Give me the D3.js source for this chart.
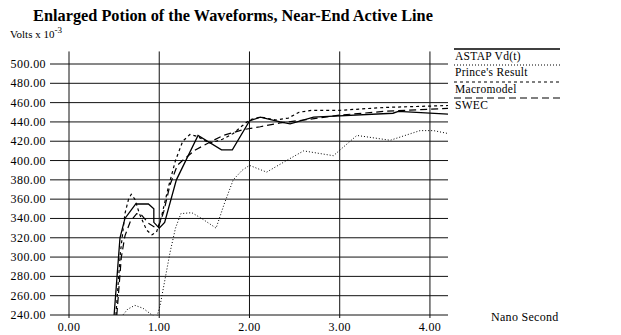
<!DOCTYPE html>
<html><head><meta charset="utf-8">
<script src="https://cdn.jsdelivr.net/npm/d3@7"></script>
<style>body{margin:0;background:#fff}svg{display:block}text{font-family:"Liberation Serif","Times New Roman",serif;fill:#000}</style>
</head><body>
<svg id="chart" width="621" height="335"></svg>
<script>
const title = "Enlarged Potion of the Waveforms, Near-End Active Line";
const xTicks = [0, 1, 2, 3, 4];
const yTicks = [240, 260, 280, 300, 320, 340, 360, 380, 400, 420, 440, 460, 480, 500];
const seriesNames = ["ASTAP Vd(t)", "Prince's Result", "Macromodel", "SWEC"];
const astap = [[0.50,240],[0.565,320],[0.62,340],[0.74,355],[0.88,355],[0.94,350],[0.94,336],[1.00,330],[1.06,336],[1.19,380],[1.43,426],[1.69,411],[1.81,411],[2.00,441],[2.12,445],[2.34,440],[2.45,438],[2.71,445],[3.59,449],[3.65,451],[4.20,448]];
const prince = [[0.58,238],[0.65,246],[0.73,250],[0.82,247],[0.92,240],[0.97,237],[1.01,250],[1.07,280],[1.12,305],[1.18,330],[1.24,345],[1.36,346],[1.47,340],[1.63,330],[1.72,355],[1.82,380],[1.92,390],[2.00,395],[2.19,388],[2.41,400],[2.60,410],[2.93,405],[3.19,426],[3.56,421],[3.89,431],[4.04,431],[4.20,428]];
const macro = [[0.52,240],[0.57,305],[0.62,345],[0.66,360],[0.69,365],[0.73,360],[0.78,345],[0.86,328],[0.92,323],[0.97,326],[1.02,340],[1.10,372],[1.18,400],[1.26,420],[1.34,427],[1.42,425],[1.56,418],[1.70,422],[1.82,428],[1.92,436],[2.00,442],[2.12,445],[2.30,442],[2.43,444],[2.55,450],[2.69,452],[3.00,452],[3.50,455],[4.20,457]];
const swec = [[0.53,240],[0.58,300],[0.62,322],[0.68,337],[0.75,345],[0.80,344],[0.88,335],[0.95,331],[0.99,331],[1.05,347],[1.12,375],[1.20,395],[1.27,401],[1.40,411],[1.56,419],[1.71,426],[1.93,432],[2.12,435],[2.34,439],[2.60,442],[3.00,447],[3.50,451],[4.20,454]];

const svg = d3.select("#chart");
const x = d3.scaleLinear().domain([0, 4.2]).range([69, 448]);
const y = d3.scaleLinear().domain([240, 500]).range([315, 64]);

svg.append("text").attr("x", 233).attr("y", 21).attr("text-anchor", "middle")
  .style("font-size", "16.3px").style("font-weight", "bold").text(title);
const vt = svg.append("text").attr("x", 10).attr("y", 38).style("font-size", "11px");
vt.append("tspan").text("Volts x 10");
vt.append("tspan").attr("dy", -5).style("font-size", "9px").text("-3");

const grid = svg.append("g");
grid.selectAll("line.h").data(yTicks).join("line").attr("class","h")
  .attr("x1", 50).attr("x2", 448).attr("y1", d => y(d)).attr("y2", d => y(d))
  .attr("stroke", "#111").attr("stroke-width", 1);
grid.selectAll("line.v").data(xTicks).join("line").attr("class","v")
  .attr("x1", d => x(d)).attr("x2", d => x(d)).attr("y1", y(513)).attr("y2", 318)
  .attr("stroke", "#111").attr("stroke-width", 1);

svg.append("g").selectAll("text").data(yTicks).join("text")
  .attr("x", 46).attr("y", d => y(d) + 4).attr("text-anchor", "end")
  .style("font-size", "12px").style("letter-spacing", "0.4px").text(d => d.toFixed(2));
svg.append("g").selectAll("text").data(xTicks).join("text")
  .attr("x", d => x(d)).attr("y", 331).attr("text-anchor", "middle")
  .style("font-size", "12px").style("letter-spacing", "0.4px").text(d => d.toFixed(2));
svg.append("text").attr("x", 491).attr("y", 321).style("font-size", "12px")
  .style("letter-spacing", "0.3px").text("Nano Second");

svg.append("clipPath").attr("id", "clip").append("rect")
  .attr("x", x(0)).attr("y", 40).attr("width", x(4.2) - x(0)).attr("height", 315.5 - 40);

const styles = [
  {data: astap, dash: null, w: 1.3},
  {data: prince, dash: "1,2", w: 1},
  {data: macro, dash: "3,3", w: 1.2},
  {data: swec, dash: "7,4", w: 1.2}
];
const line = d3.line().x(d => x(d[0])).y(d => y(d[1]));
const lg = svg.append("g").attr("clip-path", "url(#clip)");
styles.forEach(s => {
  lg.append("path").datum(s.data).attr("d", line).attr("fill", "none")
    .attr("stroke", "#000").attr("stroke-width", s.w)
    .attr("stroke-dasharray", s.dash).attr("stroke-linejoin", "miter");
});

const legY = [49, 65, 82, 98];
const leg = svg.append("g");
seriesNames.forEach((n, i) => {
  leg.append("line").attr("x1", 454).attr("x2", 560).attr("y1", legY[i]).attr("y2", legY[i])
    .attr("stroke", "#000").attr("stroke-width", styles[i].w)
    .attr("stroke-dasharray", styles[i].dash);
  leg.append("text").attr("x", 455).attr("y", legY[i] + 11).style("font-size", "11.5px")
    .style("letter-spacing", "0.3px").text(n);
});
</script>
</body></html>
